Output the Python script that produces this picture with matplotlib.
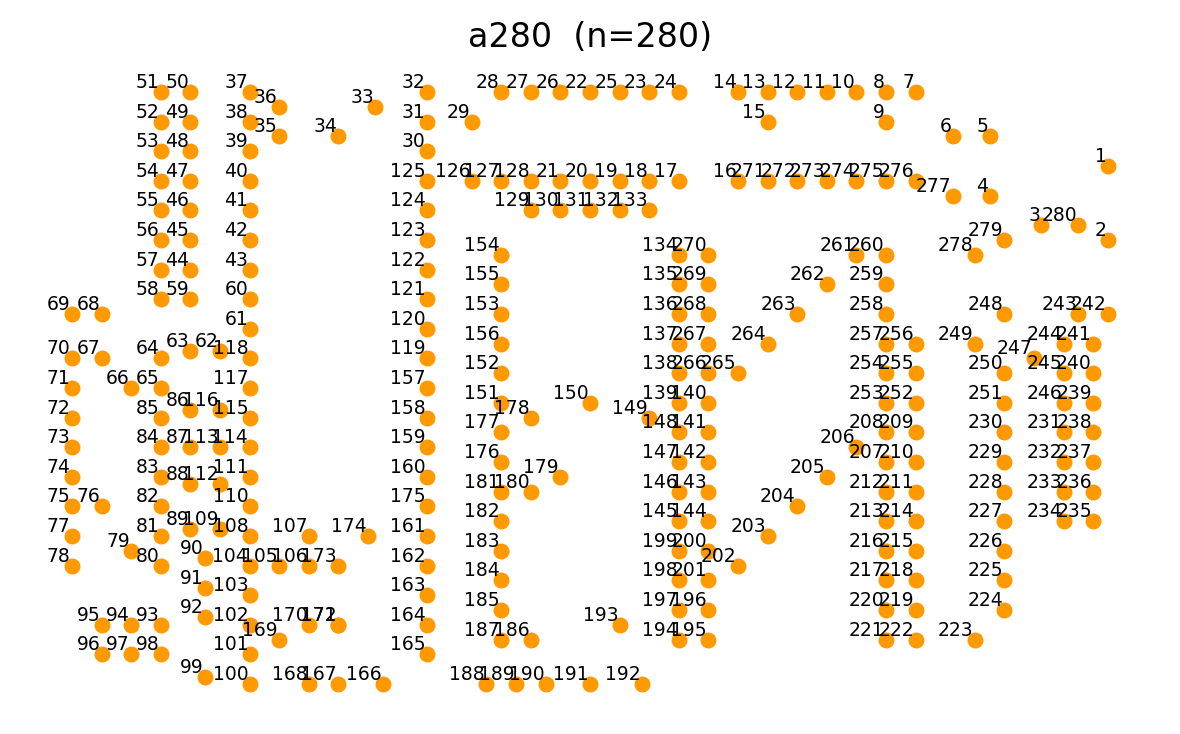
import matplotlib
matplotlib.use("Agg")
import matplotlib.pyplot as plt

# a280 city coordinates (node 1..280)
xs = [288, 288, 270, 256, 256, 246, 236, 228, 228, 220, 212, 204, 196, 188, 196, 188, 172, 164, 156, 148,
      140, 148, 164, 172, 156, 140, 132, 124, 116, 104, 104, 104, 90, 80, 64, 64, 56, 56, 56, 56,
      56, 56, 56, 40, 40, 40, 40, 40, 40, 40, 32, 32, 32, 32, 32, 32, 32, 32, 40, 56,
      56, 48, 40, 32, 32, 24, 16, 16, 8, 8, 8, 8, 8, 8, 8, 16, 8, 8, 24, 32,
      32, 32, 32, 32, 32, 40, 40, 40, 40, 44, 44, 44, 32, 24, 16, 16, 24, 32, 44, 56,
      56, 56, 56, 56, 64, 72, 72, 56, 48, 56, 56, 48, 48, 56, 56, 48, 56, 56, 104, 104,
      104, 104, 104, 104, 104, 116, 124, 132, 132, 140, 148, 156, 164, 172, 172, 172, 172, 172, 172, 180,
      180, 180, 180, 180, 172, 172, 172, 172, 164, 148, 124, 124, 124, 124, 124, 124, 104, 104, 104, 104,
      104, 104, 104, 104, 104, 92, 80, 72, 64, 72, 80, 80, 80, 88, 104, 124, 124, 132, 140, 132,
      124, 124, 124, 124, 124, 132, 124, 120, 128, 136, 148, 162, 156, 172, 180, 180, 172, 172, 172, 180,
      180, 188, 196, 204, 212, 220, 228, 228, 236, 236, 236, 228, 228, 236, 236, 228, 228, 236, 236, 228,
      228, 236, 252, 260, 260, 260, 260, 260, 260, 260, 276, 276, 276, 276, 284, 284, 284, 284, 284, 284,
      284, 288, 280, 276, 276, 276, 268, 260, 252, 260, 260, 236, 228, 228, 236, 236, 228, 228, 228, 228,
      220, 212, 204, 196, 188, 180, 180, 180, 180, 180, 196, 204, 212, 220, 228, 236, 246, 252, 260, 280]
ys = [149, 129, 133, 141, 157, 157, 169, 169, 161, 169, 169, 169, 169, 169, 161, 145, 145, 145, 145, 145,
      145, 169, 169, 169, 169, 169, 169, 169, 161, 153, 161, 169, 165, 157, 157, 165, 169, 161, 153, 145,
      137, 129, 121, 121, 129, 137, 145, 153, 161, 169, 169, 161, 153, 145, 137, 129, 121, 113, 113, 113,
      105, 99, 99, 97, 89, 89, 97, 109, 109, 97, 89, 81, 73, 65, 57, 57, 49, 41, 45, 41,
      49, 57, 65, 73, 81, 83, 73, 63, 51, 43, 35, 27, 25, 25, 25, 17, 17, 17, 11, 9,
      17, 25, 33, 41, 41, 41, 49, 49, 51, 57, 65, 63, 73, 73, 81, 83, 89, 97, 97, 105,
      113, 121, 129, 137, 145, 145, 145, 145, 137, 137, 137, 137, 137, 125, 117, 109, 101, 93, 85, 85,
      77, 69, 61, 53, 53, 61, 69, 77, 81, 85, 85, 93, 109, 125, 117, 101, 89, 81, 73, 65,
      49, 41, 33, 25, 17, 9, 9, 9, 21, 25, 25, 25, 41, 49, 57, 69, 77, 81, 65, 61,
      61, 53, 45, 37, 29, 21, 21, 9, 9, 9, 9, 9, 25, 21, 21, 29, 29, 37, 45, 45,
      37, 41, 49, 57, 65, 73, 69, 77, 77, 69, 61, 61, 53, 53, 45, 45, 37, 37, 29, 29,
      21, 21, 21, 29, 37, 45, 53, 61, 69, 77, 77, 69, 61, 53, 53, 61, 69, 77, 85, 93,
      101, 109, 109, 101, 93, 85, 97, 109, 101, 93, 85, 85, 85, 93, 93, 101, 101, 109, 117, 125,
      125, 117, 109, 101, 93, 93, 101, 109, 117, 125, 145, 145, 145, 145, 145, 145, 141, 125, 129, 133]
labels = [str(i) for i in range(1, len(xs) + 1)]

fig = plt.figure(figsize=(11.8, 7.34), dpi=100)
ax = fig.add_axes([0, 0, 1, 1])
ax.scatter(xs, ys, s=110, color="#ff9900", zorder=2)
for x, y, t in zip(xs, ys, labels):
    ax.annotate(t, (x, y), xytext=(-1, 0), textcoords="offset points",
                ha="right", va="bottom", fontsize=13.5, zorder=3)

ax.set_xlim(-11.46, 307.46)
ax.set_ylim(-4.51, 193.86)
ax.axis("off")
fig.text(0.5, 1 - 47 / 734, "a280  (n=280)", ha="center", va="baseline", fontsize=24)

fig.savefig("out.png", dpi=100)
